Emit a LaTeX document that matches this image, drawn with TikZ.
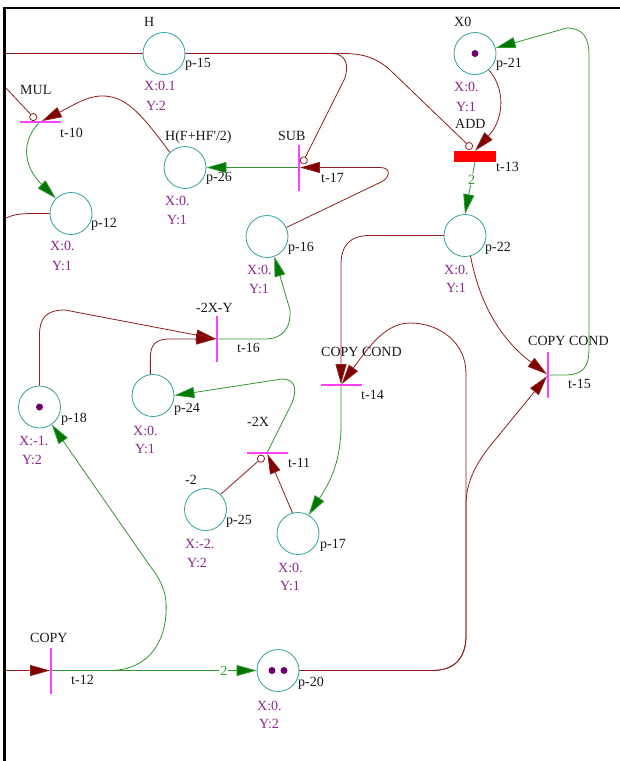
\documentclass[tikz,border=0pt]{standalone}
\usepackage{fontspec}
\setmainfont{Liberation Serif}
\usetikzlibrary{arrows.meta,calc}
\definecolor{placec}{RGB}{50,160,160}
\definecolor{barc}{RGB}{255,64,255}
\definecolor{redline}{RGB}{145,30,30}
\definecolor{redtip}{RGB}{128,0,0}
\definecolor{greenline}{RGB}{50,150,50}
\definecolor{greentip}{RGB}{0,120,0}
\definecolor{xyc}{RGB}{140,40,140}
\definecolor{tokc}{RGB}{110,0,110}
\definecolor{txt}{RGB}{25,25,25}
\begin{document}
\begin{tikzpicture}[x=1pt,y=-1pt,
  place/.style={circle,draw=placec,line width=0.8pt,minimum size=42pt,inner sep=0pt},
  vbar/.style={rectangle,fill=barc,minimum width=1.5pt,minimum height=46pt,inner sep=0pt},
  hbar/.style={rectangle,fill=barc,minimum width=41pt,minimum height=1.5pt,inner sep=0pt},
  redbar/.style={rectangle,fill=red,minimum width=42pt,minimum height=11pt,inner sep=0pt},
  token/.style={circle,fill=tokc,minimum size=7pt,inner sep=0pt},
  lbl/.style={anchor=base west,inner sep=0pt,text=txt,font=\fontsize{14}{16}\selectfont},
  xy/.style={lbl,text=xyc},
  weight/.style={fill=white,inner sep=1pt,text=greenline,font=\fontsize{14}{16}\selectfont},
  inarc/.style={draw=redline,line width=0.8pt,-{Triangle[length=20pt,width=11pt,fill=redtip]}},
  outarc/.style={draw=greenline,line width=0.8pt,-{Triangle[length=20pt,width=11pt,fill=greentip]}},
  readarc/.style={draw=redline,line width=0.8pt,-{Circle[length=8pt,width=8pt,fill=white]}},
  plainred/.style={draw=redline,line width=0.8pt},
]
\useasboundingbox (0,0) rectangle (620,761);
\fill[white] (0,0) rectangle (620,761);
\draw[line width=2.6pt] (620,7.8) -- (4.7,7.8) -- (4.7,761);

% places
\node[place] (p15) at (164,53.5) {};
\node[place] (p21) at (475,53.5) {};
\node[place] (p26) at (185,167.5) {};
\node[place] (p12) at (71,213.5) {};
\node[place] (p16) at (267,236.5) {};
\node[place] (p22) at (465,235.5) {};
\node[place] (p18) at (39.5,407) {};
\node[place] (p24) at (153,395.5) {};
\node[place] (p25) at (205.5,509.5) {};
\node[place] (p17) at (298,533.5) {};
\node[place] (p20) at (278,670.5) {};

% tokens
\node[token] (k21) at (p21) {};
\node[token] (k18) at (p18) {};
\node[token] (k20a) at (272,670.5) {};
\node[token] (k20b) at (284,670.5) {};

% transitions
\node[hbar] (t10) at (40,122) {};
\node[vbar] (t17) at (299,167.5) {};
\node[redbar] (t13) at (475,156.5) {};
\node[vbar] (t16) at (217,339) {};
\node[hbar] (t14) at (341,385) {};
\node[vbar] (t15) at (548,375) {};
\node[hbar] (t11) at (267,453) {};
\node[vbar] (t12) at (51,670.5) {};

% free ends at the left border
\coordinate (e1) at (6,53.5);
\coordinate (e2) at (6,88);
\coordinate (e3) at (6,218);
\coordinate (e4) at (6,670.5);

% arcs
\draw[plainred] (p15.west) -- (e1);
\draw[readarc] (p15.east) -- (332,53.5) .. controls (346,53.5) and (350,66) .. (344,80) -- ($(t17)+(3,-3.5)$);
\draw[readarc] (p15.east) -- (345,53.5) .. controls (365,54) and (375,58) .. (388,68) -- ($(t13.north)+(-3,-2)$);
\draw[readarc] (e2) -- ($(t10)+(-4,-2)$);
\draw[inarc] (p26.north west) .. controls (140,112) and (125,95) .. (100,96) .. controls (85,97) and (72,106) .. (t10);
\draw[outarc] (t10) .. controls (22,140) and (22,165) .. (p12.north west);
\draw[plainred] (p12.west) -- (32,213.5) .. controls (20,213.5) and (12,215) .. (e3);
\draw[inarc] (p16.25) -- (381,182) .. controls (390,178) and (392,167.5) .. (380,167.5) -- (t17);
\draw[outarc] (t17) -- (p26);
\draw[inarc] (p21.-50) .. controls (505,88) and (505,118) .. (t13.north);
\draw[outarc] (t13.south) -- node[weight,pos=0.34] (w1) {2} (p22.north);
\draw[outarc] (t15) -- (565,375) .. controls (584,375) and (589,366) .. (589,348) -- (589,55) .. controls (589,38) and (583,28) .. (567,28) -- (p21.15);
\draw[inarc] (p22.west) -- (370,235.5) .. controls (350,235.5) and (341,245) .. (341,265) -- (t14);
\draw[inarc] (p22.-75) .. controls (478,295) and (495,335) .. (t15);
\draw[inarc] (p20.east) -- (432,670.5) .. controls (455,670.5) and (466,658) .. (466,635) -- (466,373) .. controls (466,343) and (440,323) .. (410,323) .. controls (385,323) and (368,348) .. (t14);
\draw[inarc] (p20.east) -- (432,670.5) .. controls (455,670.5) and (466,658) .. (466,635) -- (466,505) .. controls (466,480) and (478,460) .. (495,440) -- (t15);
\draw[outarc] (t14) -- (341,425) .. controls (341,462) and (330,482) .. (p17.60);
\draw[inarc] (p18.north) -- (39.5,335) .. controls (39.5,318) and (46,310) .. (65,310) -- (t16);
\draw[inarc] (p24.97) -- (150.4,358) .. controls (150.4,345) and (155,339) .. (170,339) -- (t16);
\draw[outarc] (t16) -- (265,339) .. controls (283,339) and (291,328) .. (290,310) -- (p16.-70);
\draw[outarc] (t11) -- (292,403) .. controls (297,390) and (296,379) .. (282,379) -- (p24.east);
\draw[inarc] (p17.105) -- (t11);
\draw[readarc] (p25.45) -- ($(t11)+(-3,3)$);
\draw[inarc] (e4) -- (t12);
\draw[outarc] (t12) -- node[weight,pos=0.84] (w2) {2} (p20.west);
\draw[outarc] (t12) -- (112,670.5) .. controls (150,669) and (168,640) .. (166,602) .. controls (165,588) and (158,576) .. (150,566) -- (p18.-55);

% place names
\node[lbl] (nH) at (144,26) {H};
\node[lbl] (nX0) at (454,26) {X0};
\node[lbl] (nHF) at (165,140) {H(F+HF\textquotesingle/2)};
\node[lbl] (nm2) at (185,484) {-2};

% place ids
\node[lbl] (lp15) at (185,67) {p-15};
\node[lbl] (lp21) at (496,67) {p-21};
\node[lbl] (lp26) at (206,181) {p-26};
\node[lbl] (lp12) at (91,227) {p-12};
\node[lbl] (lp16) at (288,251) {p-16};
\node[lbl] (lp22) at (485,251) {p-22};
\node[lbl] (lp18) at (61,422) {p-18};
\node[lbl] (lp24) at (174,412) {p-24};
\node[lbl] (lp25) at (226,524) {p-25};
\node[lbl] (lp17) at (320,548) {p-17};
\node[lbl] (lp20) at (298,686) {p-20};

% X / Y labels
\node[xy] (x15) at (144,90) {X:0.1};  \node[xy] (y15) at (146,110) {Y:2};
\node[xy] (x21) at (454,91) {X:0.};   \node[xy] (y21) at (456,111) {Y:1};
\node[xy] (x26) at (165,205) {X:0.};  \node[xy] (y26) at (167,224) {Y:1};
\node[xy] (x12) at (50,250) {X:0.};   \node[xy] (y12) at (52,270) {Y:1};
\node[xy] (x16) at (247,274) {X:0.};  \node[xy] (y16) at (249,293) {Y:1};
\node[xy] (x22) at (444,274) {X:0.};  \node[xy] (y22) at (446,292) {Y:1};
\node[xy] (x18) at (19,445) {X:-1.};  \node[xy] (y18) at (22,464) {Y:2};
\node[xy] (x24) at (133,435) {X:0.};  \node[xy] (y24) at (135,453) {Y:1};
\node[xy] (x25) at (185,548) {X:-2.}; \node[xy] (y25) at (187,567) {Y:2};
\node[xy] (x17) at (278,572) {X:0.};  \node[xy] (y17) at (280,590) {Y:1};
\node[xy] (x20) at (257,710) {X:0.};  \node[xy] (y20) at (259,728) {Y:2};

% transition labels
\node[lbl] (n10) at (20,94) {MUL};        \node[lbl] (l10) at (60,137) {t-10};
\node[lbl] (n17) at (278,140) {SUB};      \node[lbl] (l17) at (321,182) {t-17};
\node[lbl] (n13) at (455,128) {ADD};      \node[lbl] (l13) at (496,171) {t-13};
\node[lbl] (n16) at (196,312) {-2X-Y};    \node[lbl] (l16) at (237,352) {t-16};
\node[lbl] (n14) at (321,356) {COPY COND};\node[lbl] (l14) at (361,399) {t-14};
\node[lbl] (n15) at (528,345) {COPY COND};\node[lbl] (l15) at (568,388) {t-15};
\node[lbl] (n11) at (247,426) {-2X};      \node[lbl] (l11) at (288,467) {t-11};
\node[lbl] (n12) at (30,642) {COPY};      \node[lbl] (l12) at (71,684) {t-12};
\end{tikzpicture}
\end{document}
